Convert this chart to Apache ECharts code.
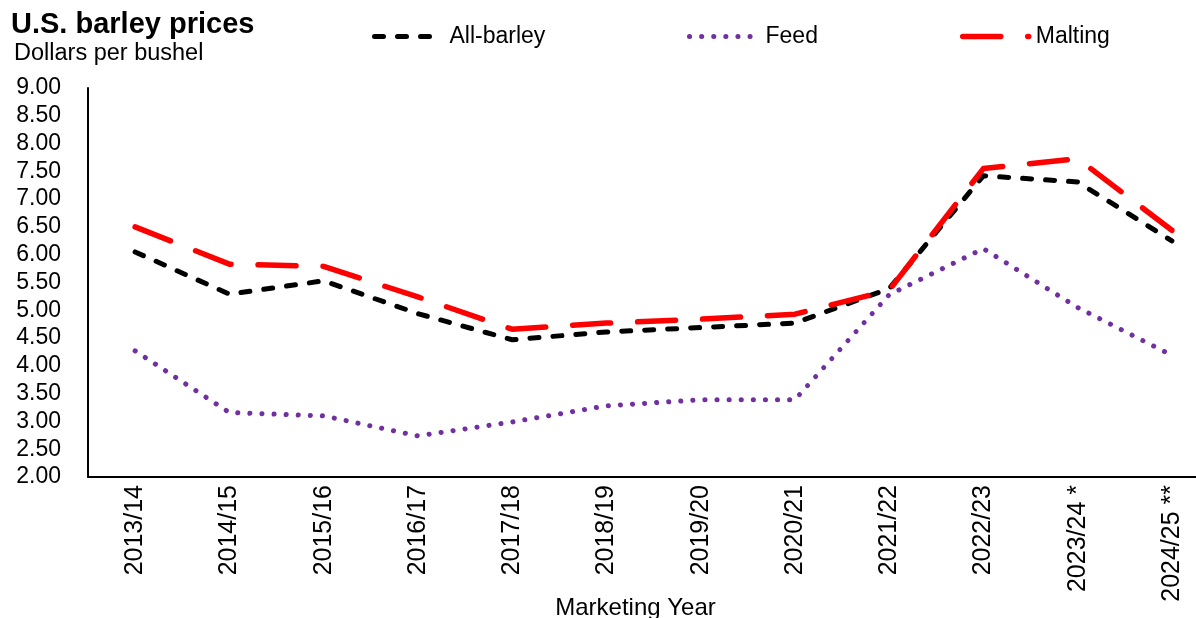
<!DOCTYPE html>
<html>
<head>
<meta charset="utf-8">
<title>U.S. barley prices</title>
<script src="https://cdn.jsdelivr.net/npm/echarts@6/dist/echarts.min.js"></script>
<style>
  html, body { margin: 0; padding: 0; background: #ffffff; }
  #chart { width: 1196px; height: 618px; }
</style>
</head>
<body>
<div id="chart"></div>
<script>
// Marketing years on the category axis
var years = ['2013/14', '2014/15', '2015/16', '2016/17', '2017/18', '2018/19',
             '2019/20', '2020/21', '2021/22', '2022/23', '2023/24 *', '2024/25 **'];

// Season-average prices, dollars per bushel
var allBarley = [6.05, 5.29, 5.53, 4.94, 4.47, 4.61, 4.69, 4.77, 5.39, 7.42, 7.31, 6.25];
var feed      = [4.27, 3.16, 3.10, 2.74, 2.99, 3.28, 3.39, 3.39, 5.28, 6.11, 5.05, 4.19];
var malting   = [6.50, 5.83, 5.79, 5.24, 4.66, 4.77, 4.84, 4.93, 5.36, 7.55, 7.73, 6.44];

// Value-axis range
var yMin = 2, yMax = 9, yStep = 0.5;

var FONT = "'Liberation Sans', Arial, sans-serif";

// Line looks shared by the series and their legend keys
var styles = {
  'All-barley': { color: '#000000', width: 5, type: [9, 14] },
  'Feed':       { color: '#7030A0', width: 5, type: [0.1, 12] },
  'Malting':    { color: '#FF0000', width: 5.5, type: [38, 27] }
};

var chart = echarts.init(document.getElementById('chart'), null, { renderer: 'canvas' });

function legendFor(name, left, width, gap) {
  var s = styles[name];
  return {
    data: [name],
    left: left,
    top: 25,
    padding: 0,
    itemWidth: width,
    itemHeight: 14,
    selectedMode: false,
    itemStyle: { color: 'rgba(0,0,0,0)', borderWidth: 0, opacity: 0 },
    lineStyle: { color: s.color, width: s.width, type: s.type, cap: 'round', join: 'round' },
    textStyle: {
      fontFamily: FONT,
      fontSize: 23,
      color: '#000',
      padding: [0, 0, 0, gap]
    }
  };
}

function lineSeries(name, data, z) {
  var s = styles[name];
  return {
    name: name,
    type: 'line',
    data: data,
    symbol: 'none',
    z: z,
    itemStyle: { color: s.color },
    lineStyle: { color: s.color, width: s.width, type: s.type, cap: 'round', join: 'round' }
  };
}

chart.setOption({
  animation: false,
  backgroundColor: '#ffffff',
  title: [
    {
      text: 'U.S. barley prices',
      left: 11,
      top: 10,
      padding: 0,
      textStyle: { fontFamily: FONT, fontSize: 29, fontWeight: 'bold', color: '#000' }
    },
    {
      text: 'Dollars per bushel',
      left: 14,
      top: 42,
      padding: 0,
      textStyle: { fontFamily: FONT, fontSize: 23.5, fontWeight: 'normal', color: '#000' }
    }
  ],
  legend: [
    legendFor('All-barley', 372, 61, 9),
    legendFor('Feed', 687, 63, 8),
    legendFor('Malting', 960, 66, 2)
  ],
  grid: {
    left: 88, top: 88, width: 1131, height: 389,
    containLabel: false,
    outerBoundsMode: 'none'
  },
  xAxis: {
    type: 'category',
    data: years,
    boundaryGap: true,
    name: 'Marketing Year',
    nameLocation: 'middle',
    nameGap: 119,
    nameMoveOverlap: false,
    nameTextStyle: { fontFamily: FONT, fontSize: 24, color: '#000', padding: [0, 36, 0, 0] },
    axisLine: { show: true, lineStyle: { color: '#000', width: 2 } },
    axisTick: { show: false },
    axisLabel: { rotate: 90, margin: 8, fontFamily: FONT, fontSize: 25, color: '#000' },
    splitLine: { show: false }
  },
  yAxis: {
    type: 'value',
    min: yMin,
    max: yMax,
    interval: yStep,
    axisLine: { show: true, lineStyle: { color: '#000', width: 2 } },
    axisTick: { show: false },
    axisLabel: {
      margin: 27,
      fontFamily: FONT,
      fontSize: 23,
      color: '#000',
      formatter: function (v) { return v.toFixed(2); }
    },
    splitLine: { show: false }
  },
  series: [
    lineSeries('All-barley', allBarley, 3),
    lineSeries('Feed', feed, 2),
    lineSeries('Malting', malting, 4)
  ]
});
</script>
</body>
</html>
